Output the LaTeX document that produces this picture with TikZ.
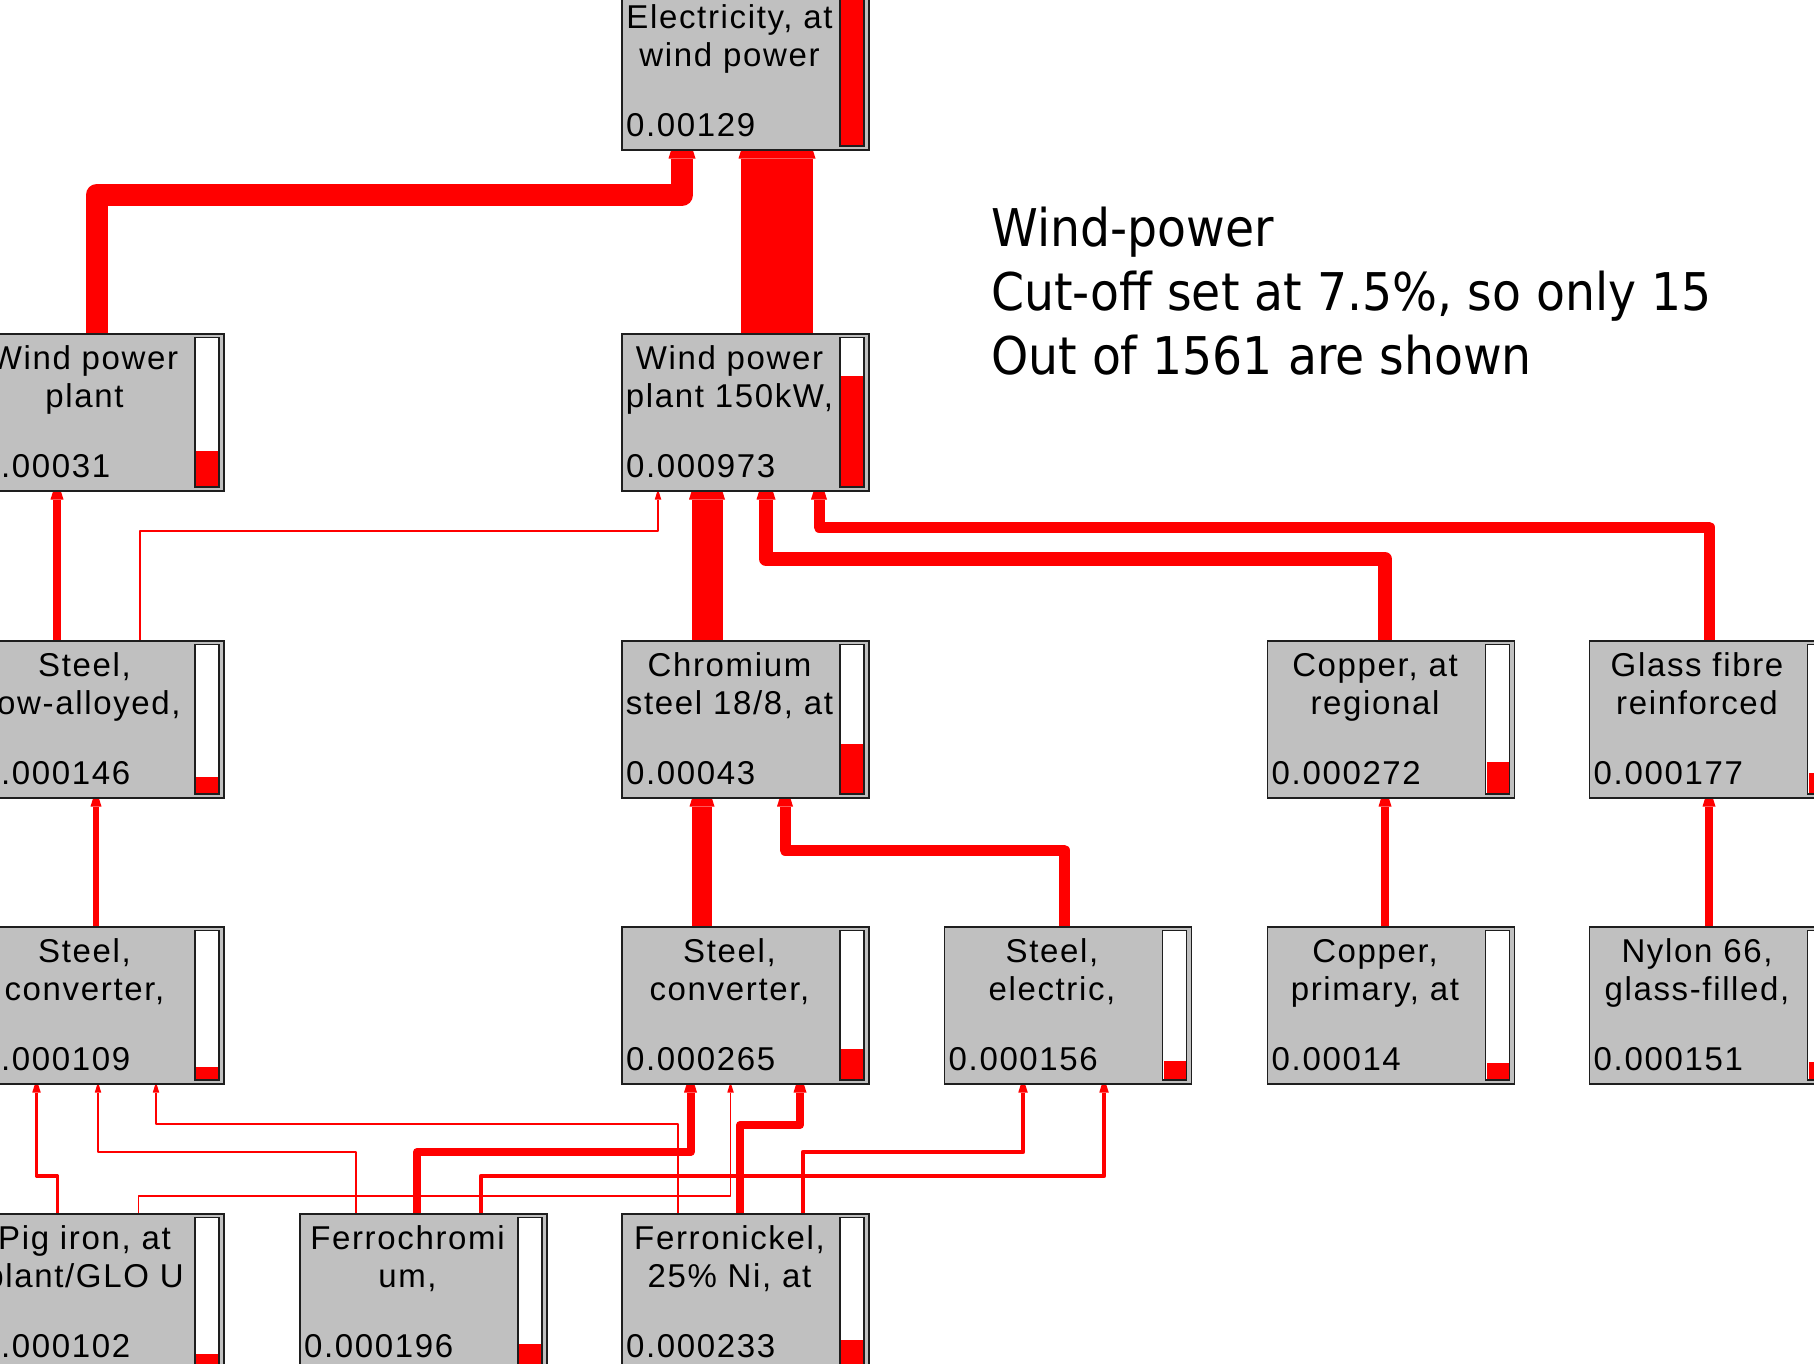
\documentclass[tikz,border=0pt]{standalone}
\usepackage{fontspec}
\setmainfont{Liberation Sans}
\newfontfamily\boxfont{Liberation Sans}[LetterSpace=5]
\newfontfamily\titlefont{DejaVu Sans}[FakeStretch=0.91]
\usetikzlibrary{arrows.meta,backgrounds}
\definecolor{boxgray}{RGB}{192,192,192}
\definecolor{flowred}{RGB}{255,0,0}
\definecolor{edgegray}{RGB}{30,30,30}
\tikzset{
  procbox/.style={draw=edgegray,line width=1.5pt,fill=boxgray,anchor=north west,
    minimum width=247pt,minimum height=157pt,inner sep=0pt},
  boxtext/.style={font=\boxfont\fontsize{33}{38}\selectfont,inner sep=0pt,anchor=base},
  titletext/.style={font=\titlefont\fontsize{52}{64}\selectfont,inner sep=0pt,anchor=base west},
  flow/.style={draw=flowred,line width=#1pt,line join=round,shorten >=-1.6*#1pt,
    -{Triangle[width=5pt 1,length=8pt 1.6,line width=0pt]}},
}
% name, x, y, first line, second line, value, bar fraction
\newcommand{\procbox}[7]{%
  \node[procbox] (#1) at (#2,#3) {};
  \node[boxtext] at ([xshift=108.5pt,yshift=-36pt]#1.north west) {#4};
  \node[boxtext] at ([xshift=108.5pt,yshift=-74pt]#1.north west) {#5};
  \node[boxtext,anchor=base west] at ([xshift=5pt,yshift=14pt]#1.south west) {#6};
  \draw[draw=edgegray,line width=1.5pt,fill=white] ([xshift=-29.5pt,yshift=-4.5pt]#1.north east) rectangle ([xshift=-5.5pt,yshift=4.5pt]#1.south east);
  \fill[flowred] ([xshift=-28.5pt,yshift=5.5pt]#1.south east) rectangle ([xshift=-6.5pt,yshift={5.5pt+#7*146pt}]#1.south east);
}

\begin{document}
\begin{tikzpicture}[x=1pt,y=-1pt]
\useasboundingbox (0,0) rectangle (1814,1363);
\clip (0,0) rectangle (1814,1363);
% process boxes
\procbox{elec}{621}{-8}{Electricity, at}{wind power}{0.00129}{1.0}
\procbox{wpp}{-24}{333}{Wind power}{plant}{0.00031}{0.24}
\procbox{wpp150}{621}{333}{Wind power}{plant 150kW,}{0.000973}{0.754}
\procbox{steellow}{-24}{640}{Steel,}{low-alloyed,}{0.000146}{0.113}
\procbox{chrom}{621}{640}{Chromium}{steel 18/8, at}{0.00043}{0.333}
\procbox{copreg}{1266.5}{640}{Copper, at}{regional}{0.000272}{0.211}
\procbox{glass}{1588.5}{640}{Glass fibre}{reinforced}{0.000177}{0.137}
\procbox{convA}{-24}{926}{Steel,}{converter,}{0.000109}{0.085}
\procbox{convB}{621}{926}{Steel,}{converter,}{0.000265}{0.205}
\procbox{electric}{943.5}{926}{Steel,}{electric,}{0.000156}{0.121}
\procbox{copprim}{1266.5}{926}{Copper,}{primary, at}{0.00014}{0.109}
\procbox{nylon}{1588.5}{926}{Nylon 66,}{glass-filled,}{0.000151}{0.117}
\procbox{pig}{-24}{1213}{Pig iron, at}{plant/GLO U}{0.000102}{0.079}
\procbox{ferrocr}{299}{1213}{Ferrochromi}{um,}{0.000196}{0.152}
\procbox{ferroni}{621}{1213}{Ferronickel,}{25\% Ni, at}{0.000233}{0.181}
% caption
\node[titletext] (title1) at (991,246) {Wind-power};
\node[titletext] (title2) at (991,310) {Cut-off set at 7.5\%, so only 15};
\node[titletext] (title3) at (991,374) {Out of 1561 are shown};
% flows, under the boxes
\begin{scope}[on background layer]
\draw[flow=22] ([xshift=120.5pt]wpp.north west) -- ++(0,-138) -| ([xshift=61pt]elec.south west);
\draw[flow=72] ([xshift=156pt]wpp150.north west) -- ([xshift=156pt]elec.south west);
\draw[flow=8] ([xshift=81pt]steellow.north west) -- ([xshift=81pt]wpp.south west);
\draw[flow=1.5] ([xshift=164pt]steellow.north west) -- ++(0,-109) -| ([xshift=37pt]wpp150.south west);
\draw[flow=31] ([xshift=86pt]chrom.north west) -- ([xshift=86pt]wpp150.south west);
\draw[flow=14] ([xshift=118.5pt]copreg.north west) -- ++(0,-81) -| ([xshift=145pt]wpp150.south west);
\draw[flow=11] ([xshift=120.5pt]glass.north west) -- ++(0,-113) -| ([xshift=198pt]wpp150.south west);
\draw[flow=6] ([xshift=120pt]convA.north west) -- ([xshift=120pt]steellow.south west);
\draw[flow=20] ([xshift=81pt]convB.north west) -- ([xshift=81pt]chrom.south west);
\draw[flow=11] ([xshift=120.5pt]electric.north west) -- ++(0,-76) -| ([xshift=164pt]chrom.south west);
\draw[flow=8] ([xshift=118.5pt]copprim.north west) -- ([xshift=118.5pt]copreg.south west);
\draw[flow=8] ([xshift=120.5pt]nylon.north west) -- ([xshift=120.5pt]glass.south west);
\draw[flow=3.5] ([xshift=81.5pt]pig.north west) -- ++(0,-37) -| ([xshift=60.5pt]convA.south west);
\draw[flow=1.5] ([xshift=162.5pt]pig.north west) -- ++(0,-17) -| ([xshift=109.5pt]convB.south west);
\draw[flow=1.5] ([xshift=57pt]ferrocr.north west) -- ++(0,-61) -| ([xshift=122pt]convA.south west);
\draw[flow=8] ([xshift=118pt]ferrocr.north west) -- ++(0,-61) -| ([xshift=69.5pt]convB.south west);
\draw[flow=4.5] ([xshift=182pt]ferrocr.north west) -- ++(0,-37) -| ([xshift=160.5pt]electric.south west);
\draw[flow=1.5] ([xshift=57pt]ferroni.north west) -- ++(0,-89) -| ([xshift=180pt]convA.south west);
\draw[flow=8] ([xshift=119pt]ferroni.north west) -- ++(0,-88) -| ([xshift=179pt]convB.south west);
\draw[flow=4.5] ([xshift=182pt]ferroni.north west) -- ++(0,-61) -| ([xshift=79.5pt]electric.south west);
\end{scope}
\end{tikzpicture}
\end{document}
